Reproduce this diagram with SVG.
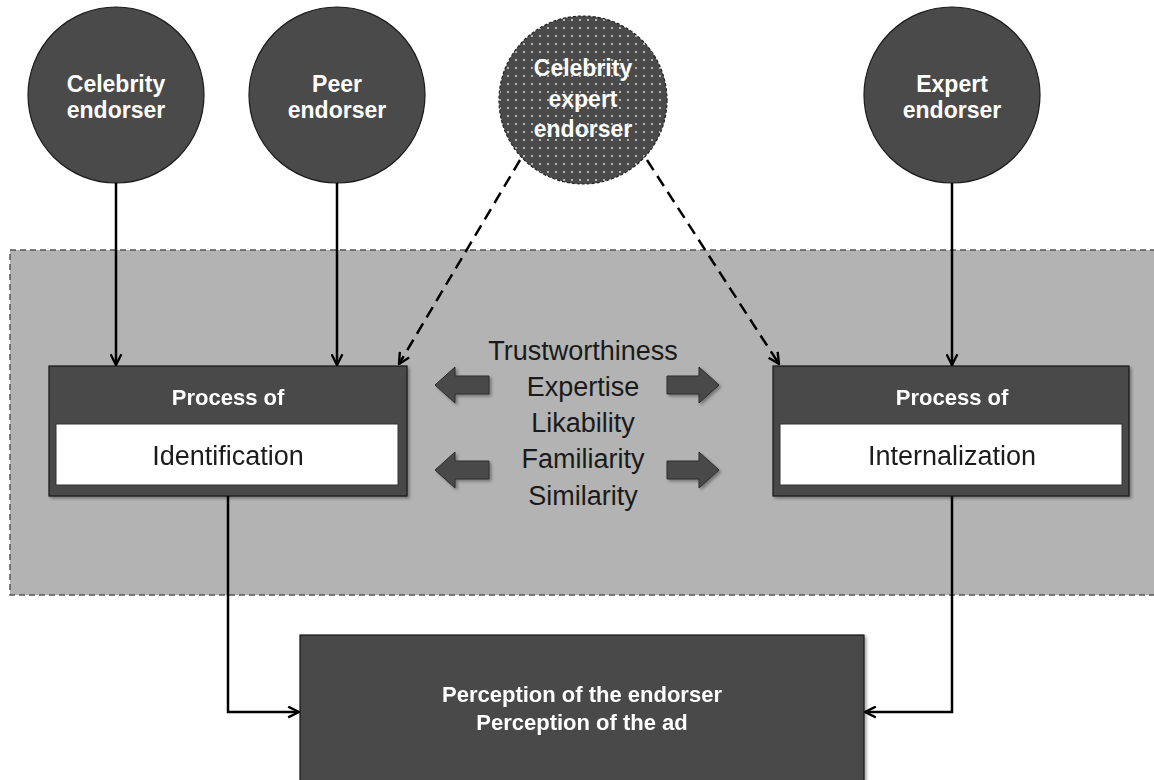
<svg xmlns="http://www.w3.org/2000/svg" width="1154" height="780" viewBox="0 0 1154 780">
<defs>
<style>
.node{fill:#4a4a4a;stroke:#1a1a1a;stroke-width:1.2}
.wt{fill:#ffffff;font-family:"Liberation Sans",Arial,sans-serif;font-weight:bold;text-anchor:middle}
.bt{fill:#1a1a1a;font-family:"Liberation Sans",Arial,sans-serif;text-anchor:middle}
.edge{fill:none;stroke:#000;stroke-width:2.5}
.dash{stroke-dasharray:12 7}
.block{fill:#4a4a4a;stroke:#2a2a2a;stroke-width:1}
</style>
<marker id="ah" viewBox="0 0 12 12" refX="11" refY="6" markerWidth="13" markerHeight="13" markerUnits="userSpaceOnUse" orient="auto">
<path d="M1,1 L11,6 L1,11" fill="none" stroke="#000" stroke-width="2.2"/>
</marker>
<pattern id="dots" width="8" height="8" patternUnits="userSpaceOnUse">
<rect width="8" height="8" fill="#4a4a4a"/>
<circle cx="4" cy="4" r="1" fill="#d8d8d8"/>
</pattern>
<filter id="sh" x="-5%" y="-5%" width="112%" height="120%">
<feDropShadow dx="2" dy="2" stdDeviation="1.5" flood-color="#000" flood-opacity="0.35"/>
</filter>
</defs>
<rect width="1154" height="780" fill="#ffffff"/>

<g id="mediator-area">
<rect x="10" y="250" width="1150" height="345" fill="#b3b3b3" stroke="#555" stroke-width="1.5" stroke-dasharray="6 4"/>
</g>

<g id="celebrity-endorser">
<circle class="node" cx="116" cy="95" r="88"/>
<text class="wt" x="116" y="92" font-size="23">Celebrity</text>
<text class="wt" x="116" y="118" font-size="23">endorser</text>
</g>

<g id="peer-endorser">
<circle class="node" cx="337" cy="95" r="88"/>
<text class="wt" x="337" y="92" font-size="23">Peer</text>
<text class="wt" x="337" y="118" font-size="23">endorser</text>
</g>

<g id="celebrity-expert-endorser">
<circle cx="583" cy="100" r="84" fill="url(#dots)" stroke="#222" stroke-width="1.2" stroke-dasharray="3 2"/>
<text class="wt" x="583" y="76" font-size="23">Celebrity</text>
<text class="wt" x="583" y="107" font-size="23">expert</text>
<text class="wt" x="583" y="137" font-size="23">endorser</text>
</g>

<g id="expert-endorser">
<circle class="node" cx="952" cy="95" r="88"/>
<text class="wt" x="952" y="92" font-size="23">Expert</text>
<text class="wt" x="952" y="118" font-size="23">endorser</text>
</g>

<g id="process-identification" filter="url(#sh)">
<rect class="node" x="49" y="366" width="358" height="130"/>
<rect x="56" y="424" width="342" height="61" fill="#ffffff" stroke="#333" stroke-width="1"/>
<text class="wt" x="228" y="405" font-size="22">Process of</text>
<text class="bt" x="228" y="465" font-size="27">Identification</text>
</g>

<g id="process-internalization" filter="url(#sh)">
<rect class="node" x="773" y="366" width="356" height="130"/>
<rect x="780" y="424" width="342" height="61" fill="#ffffff" stroke="#333" stroke-width="1"/>
<text class="wt" x="952" y="405" font-size="22">Process of</text>
<text class="bt" x="952" y="465" font-size="27">Internalization</text>
</g>

<g id="attributes">
<text class="bt" x="583" y="360" font-size="27">Trustworthiness</text>
<text class="bt" x="583" y="396" font-size="27">Expertise</text>
<text class="bt" x="583" y="432" font-size="27">Likability</text>
<text class="bt" x="583" y="468" font-size="27">Familiarity</text>
<text class="bt" x="583" y="505" font-size="27">Similarity</text>
</g>

<g id="block-arrows" filter="url(#sh)">
<path class="block" d="M489,376 L455,376 L455,367 L435,385 L455,403 L455,394 L489,394 Z"/>
<path class="block" d="M489,461 L455,461 L455,452 L435,470 L455,488 L455,479 L489,479 Z"/>
<path class="block" d="M667,376 L699,376 L699,367 L719,385 L699,403 L699,394 L667,394 Z"/>
<path class="block" d="M667,461 L699,461 L699,452 L719,470 L699,488 L699,479 L667,479 Z"/>
</g>

<g id="outcome" filter="url(#sh)">
<rect class="node" x="300" y="635" width="564" height="160"/>
<text class="wt" x="582" y="702" font-size="22">Perception of the endorser</text>
<text class="wt" x="582" y="730" font-size="22">Perception of the ad</text>
</g>

<g id="connectors">
<line class="edge" x1="116" y1="183" x2="116" y2="365" marker-end="url(#ah)"/>
<line class="edge" x1="337" y1="183" x2="337" y2="365" marker-end="url(#ah)"/>
<line class="edge" x1="952" y1="183" x2="952" y2="365" marker-end="url(#ah)"/>
<line class="edge dash" x1="520" y1="160" x2="399" y2="364" marker-end="url(#ah)"/>
<line class="edge dash" x1="647" y1="160" x2="779" y2="364" marker-end="url(#ah)"/>
<polyline class="edge" points="228,496 228,712 299,712" marker-end="url(#ah)"/>
<polyline class="edge" points="952,496 952,712 865,712" marker-end="url(#ah)"/>
</g>
</svg>
